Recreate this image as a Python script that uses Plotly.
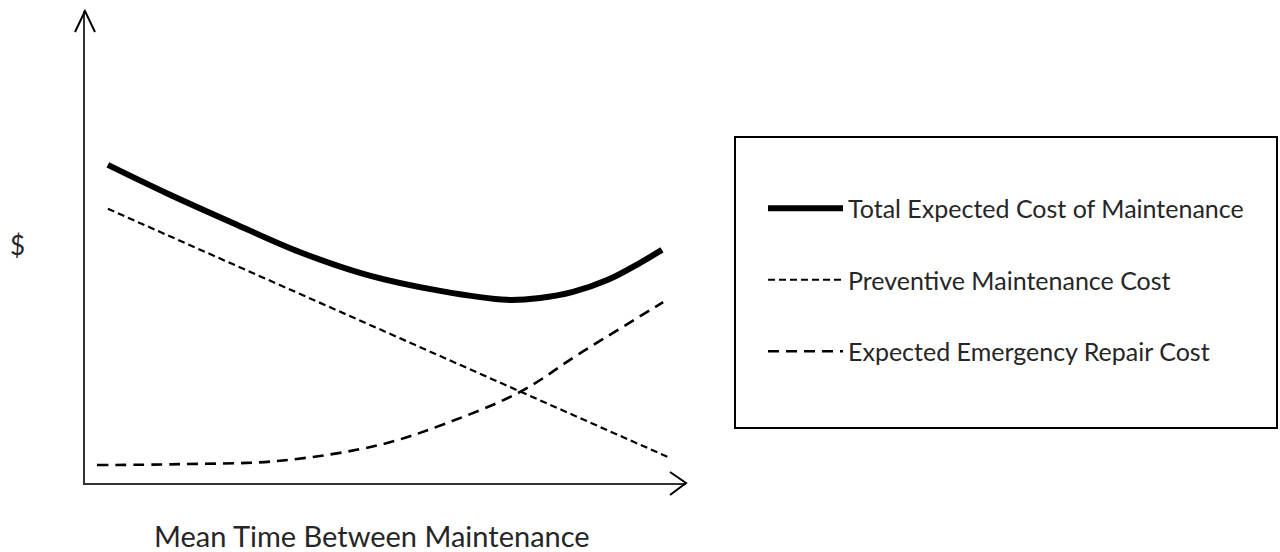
import plotly.graph_objects as go

# Data (x: mean time between maintenance, y: cost, arbitrary units)
total_x = [0.38, 1.36, 2.46, 3.58, 4.69, 5.91, 7.02, 7.57, 8.12, 8.69, 9.23, 9.60]
total_y = [6.74, 6.14, 5.51, 4.89, 4.41, 4.07, 3.88, 3.92, 4.05, 4.30, 4.66, 4.94]

prev_x = [0.38, 7.24, 9.70]
prev_y = [5.81, 1.93, 0.55]

emer_x = [0.20, 1.58, 3.24, 4.91, 6.02, 7.24, 8.24, 9.62]
emer_y = [0.38, 0.40, 0.47, 0.81, 1.27, 1.93, 2.75, 3.83]

names = ["Total Expected Cost of Maintenance",
         "Preventive Maintenance Cost",
         "Expected Emergency Repair Cost"]

FONT = "Lato"
TXT = "#262626"

fig = go.Figure()
fig.add_trace(go.Scatter(x=total_x, y=total_y, mode="lines", name=names[0],
                         legendgroup="a",
                         line=dict(color="black", width=6, shape="spline", smoothing=1.0)))
fig.add_trace(go.Scatter(x=prev_x, y=prev_y, mode="lines", name=names[1],
                         legendgroup="b",
                         line=dict(color="black", width=2.2, dash="7px,4px")))
fig.add_trace(go.Scatter(x=emer_x, y=emer_y, mode="lines", name=names[2],
                         legendgroup="c",
                         line=dict(color="black", width=2.6, dash="11px,7px", shape="spline")))

OFF = 0  # page body margin removed via post_script
W, H = 1280, 552
L, T = 85 - OFF, 11 - OFF
B = H - (483 - OFF)
R = W - (686 - OFF)
PW, PH = W - L - R, H - T - B

def px(xp):
    return (xp - OFF - L) / PW

def py(yp):
    return (H - B - (yp - OFF)) / PH

shapes = [
    # arrowheads
    dict(type="path", xref="paper", yref="paper",
         path=f"M {px(75)} {py(32)} L {px(85)} {py(11)} L {px(95)} {py(32)}",
         line=dict(color="black", width=2)),
    dict(type="path", xref="paper", yref="paper",
         path=f"M {px(670)} {py(472)} L {px(686)} {py(483)} L {px(670)} {py(495)}",
         line=dict(color="black", width=2)),
    # legend frame
    dict(type="rect", xref="paper", yref="paper",
         x0=px(735), x1=px(1277), y0=py(428), y1=py(137),
         line=dict(color="black", width=2), fillcolor="rgba(0,0,0,0)"),
]

annotations = [
    dict(text="Mean Time Between Maintenance", xref="paper", yref="paper",
         x=px(372), y=py(535), showarrow=False, xanchor="center", yanchor="middle",
         font=dict(family=FONT, size=29, color=TXT)),
    dict(text="$", xref="paper", yref="paper",
         x=px(17), y=py(245), showarrow=False, xanchor="center", yanchor="middle",
         font=dict(family=FONT, size=26, color=TXT)),
]

fig.update_layout(
    width=W, height=H,
    margin=dict(l=L, r=R, t=T, b=B),
    paper_bgcolor="white", plot_bgcolor="white",
    xaxis=dict(range=[0, 10], showgrid=False, zeroline=False, showticklabels=False,
               ticks="", showline=True, linecolor="#333333", linewidth=2),
    yaxis=dict(range=[0, 10], showgrid=False, zeroline=False, showticklabels=False,
               ticks="", showline=True, linecolor="#333333", linewidth=2),
    showlegend=True,
    legend=dict(x=px(763), y=py(280), xanchor="left", yanchor="middle",
                traceorder="grouped", tracegroupgap=36, itemwidth=75,
                bgcolor="rgba(0,0,0,0)", borderwidth=0,
                font=dict(family=FONT, size=25, color=TXT)),
    shapes=shapes,
    annotations=annotations,
)

fig.write_html("out.html",
               config={"displayModeBar": False},
               post_script="document.body.style.margin='0px';document.body.style.overflow='hidden';")
